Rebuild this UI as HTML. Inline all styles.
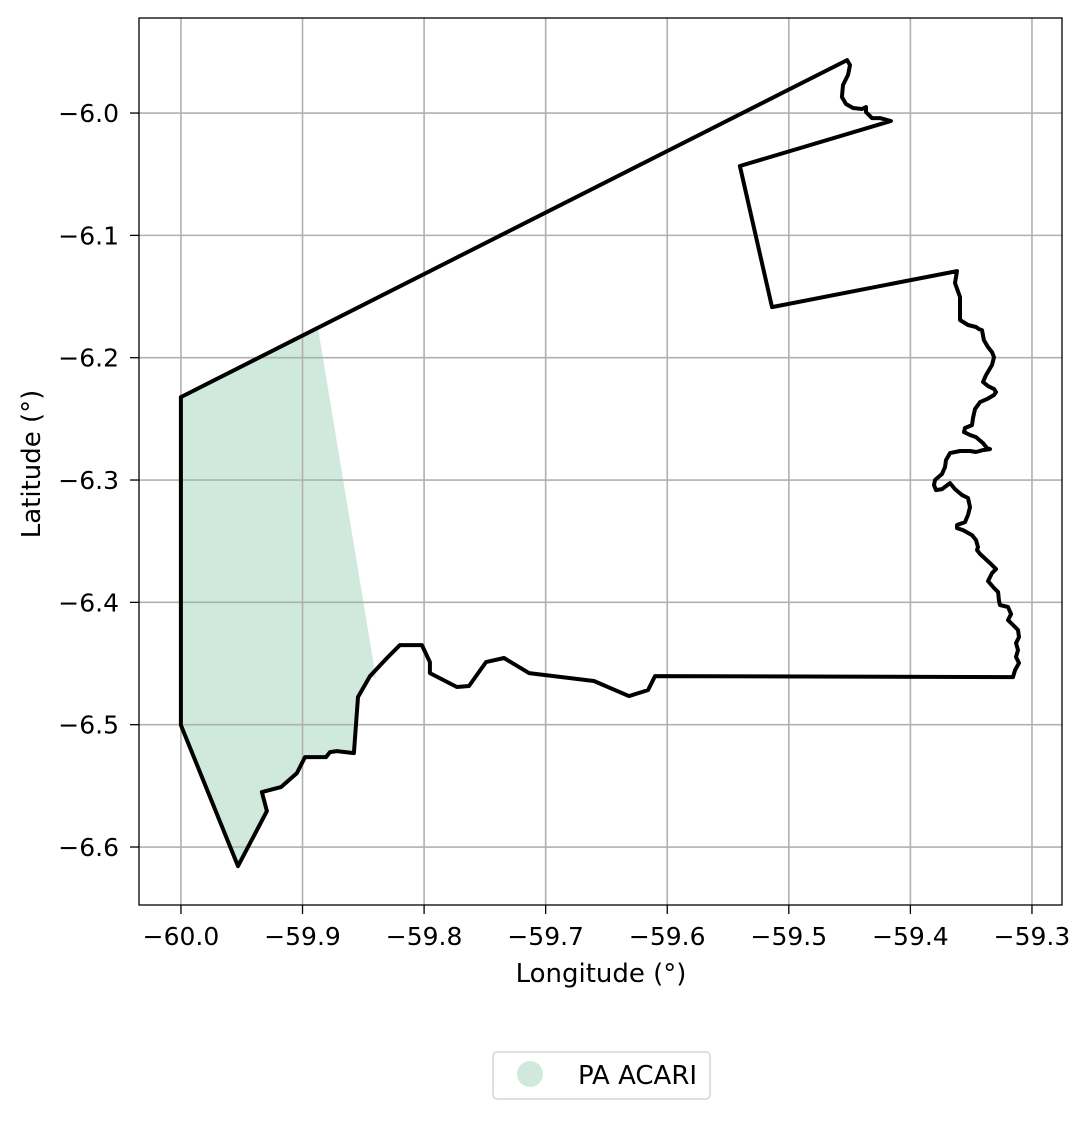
<!DOCTYPE html>
<html><head><meta charset="utf-8"><style>
body{margin:0;background:#fff;}
svg text{font-family:"DejaVu Sans","Liberation Sans",sans-serif;fill:#000;}
</style></head><body>
<svg id="chart" width="1092" height="1119" viewBox="0 0 1092 1119" xmlns="http://www.w3.org/2000/svg">
<g id="fillLayer"></g><g id="gridLayer"></g><g id="lineLayer"></g>
<rect x="139" y="18" width="923" height="887" fill="none" stroke="#000" stroke-width="1.3"/>
<g id="ticks"></g>
<text x="601" y="982" font-size="26" text-anchor="middle">Longitude (°)</text>
<text x="0" y="0" font-size="26" text-anchor="middle" transform="translate(40 464) rotate(-90)">Latitude (°)</text>
<g>
<rect x="493" y="1052" width="217" height="47" rx="4" fill="#fff" stroke="#d6d6d6" stroke-width="1.5"/>
<circle cx="530" cy="1074" r="13" fill="#cfeadd"/>
<text x="578" y="1084" font-size="26">PA ACARI</text>
</g>
</svg>
<script>
const xTicks=[-60.0,-59.9,-59.8,-59.7,-59.6,-59.5,-59.4,-59.3];
const yTicks=[-6.0,-6.1,-6.2,-6.3,-6.4,-6.5,-6.6];
const boundaryLon=[-60.0000,-59.4521,-59.4497,-59.4513,-59.4554,-59.4563,-59.4530,-59.4472,-59.4398,-59.4365,-59.4365,-59.4316,-59.4250,-59.4160,-59.5402,-59.5138,-59.3617,-59.3633,-59.3592,-59.3592,-59.3526,-59.3460,-59.3436,-59.3411,-59.3395,-59.3362,-59.3329,-59.3312,-59.3329,-59.3378,-59.3403,-59.3362,-59.3312,-59.3296,-59.3312,-59.3370,-59.3427,-59.3469,-59.3485,-59.3493,-59.3551,-59.3559,-59.3510,-59.3460,-59.3403,-59.3370,-59.3345,-59.3403,-59.3460,-59.3510,-59.3592,-59.3674,-59.3707,-59.3715,-59.3740,-59.3798,-59.3806,-59.3789,-59.3740,-59.3674,-59.3633,-59.3575,-59.3526,-59.3510,-59.3526,-59.3551,-59.3617,-59.3617,-59.3567,-59.3493,-59.3460,-59.3444,-59.3452,-59.3427,-59.3345,-59.3296,-59.3329,-59.3362,-59.3312,-59.3279,-59.3271,-59.3263,-59.3197,-59.3172,-59.3197,-59.3164,-59.3115,-59.3107,-59.3131,-59.3115,-59.3131,-59.3107,-59.3139,-59.3156,-59.6101,-59.6158,-59.6315,-59.6603,-59.7137,-59.7343,-59.7491,-59.7631,-59.7730,-59.7952,-59.7952,-59.8018,-59.8199,-59.8305,-59.8445,-59.8544,-59.8577,-59.8717,-59.8774,-59.8807,-59.8980,-59.9046,-59.9177,-59.9334,-59.9293,-59.9531,-60.0000,-60.0000];
const boundaryLat=[-6.2322,-5.9567,-5.9608,-5.9689,-5.9771,-5.9869,-5.9926,-5.9959,-5.9967,-5.9951,-5.9992,-6.0041,-6.0041,-6.0065,-6.0433,-6.1586,-6.1292,-6.1390,-6.1504,-6.1692,-6.1733,-6.1749,-6.1766,-6.1774,-6.1856,-6.1913,-6.1954,-6.1995,-6.2060,-6.2142,-6.2199,-6.2232,-6.2256,-6.2281,-6.2305,-6.2338,-6.2363,-6.2420,-6.2493,-6.2551,-6.2575,-6.2608,-6.2632,-6.2649,-6.2698,-6.2739,-6.2747,-6.2755,-6.2771,-6.2763,-6.2763,-6.2780,-6.2837,-6.2894,-6.2951,-6.3000,-6.3041,-6.3082,-6.3074,-6.3025,-6.3074,-6.3123,-6.3147,-6.3221,-6.3286,-6.3344,-6.3368,-6.3393,-6.3409,-6.3450,-6.3491,-6.3548,-6.3572,-6.3605,-6.3679,-6.3728,-6.3761,-6.3826,-6.3883,-6.3916,-6.3989,-6.4022,-6.4038,-6.4096,-6.4145,-6.4177,-6.4226,-6.4284,-6.4333,-6.4390,-6.4447,-6.4496,-6.4553,-6.4611,-6.4603,-6.4717,-6.4766,-6.4643,-6.4578,-6.4455,-6.4488,-6.4684,-6.4692,-6.4578,-6.4488,-6.4349,-6.4349,-6.4455,-6.4603,-6.4774,-6.5232,-6.5216,-6.5224,-6.5265,-6.5265,-6.5396,-6.5510,-6.5551,-6.5706,-6.6156,-6.5003,-6.2322];
const fillLon=[-60.0000,-59.8873,-59.8396,-59.8445,-59.8544,-59.8577,-59.8717,-59.8774,-59.8807,-59.8980,-59.9046,-59.9177,-59.9334,-59.9293,-59.9531,-60.0000];
const fillLat=[-6.2322,-6.1758,-6.4619,-6.4603,-6.4774,-6.5232,-6.5216,-6.5224,-6.5265,-6.5265,-6.5396,-6.5510,-6.5551,-6.5706,-6.6156,-6.5003];
const X0=139,X1=1062,Y0=18,Y1=905,LON0=-60.0345,LON1=-59.2753,LAT0=-5.9223,LAT1=-6.6474;
function sx(v){return X0+(v-LON0)/(LON1-LON0)*(X1-X0);}
function sy(v){return Y0+(v-LAT0)/(LAT1-LAT0)*(Y1-Y0);}
const NS="http://www.w3.org/2000/svg";
function mk(t,a,parent){const e=document.createElementNS(NS,t);for(const k in a)e.setAttribute(k,a[k]);document.getElementById(parent).appendChild(e);return e;}
const fillPts=fillLon.map((v,i)=>sx(v).toFixed(1)+','+sy(fillLat[i]).toFixed(1)).join(' ');
const fp=mk('polygon',{points:fillPts,fill:'#cfeadd'},'fillLayer');


xTicks.forEach(v=>{const x=sx(v);
const g=mk('line',{x1:x,x2:x,y1:Y0,y2:Y1,stroke:'#b0b0b0','stroke-width':1.6},'gridLayer');


mk('line',{x1:x,x2:x,y1:Y1,y2:Y1+9,stroke:'#000','stroke-width':1.3},'ticks');
const t=mk('text',{x:x,y:Y1+40,'font-size':25,'text-anchor':'middle'},'ticks');
t.textContent='\u2212'+Math.abs(v).toFixed(1);

});
yTicks.forEach(v=>{const y=sy(v);
const g=mk('line',{x1:X0,x2:X1,y1:y,y2:y,stroke:'#b0b0b0','stroke-width':1.6},'gridLayer');


mk('line',{x1:X0-9,x2:X0,y1:y,y2:y,stroke:'#000','stroke-width':1.3},'ticks');
const t=mk('text',{x:X0-20,y:y+9,'font-size':25,'text-anchor':'end'},'ticks');
t.textContent='\u2212'+Math.abs(v).toFixed(1);

});
const bPts=boundaryLon.map((v,i)=>sx(v).toFixed(1)+','+sy(boundaryLat[i]).toFixed(1)).join(' ');
const bl=mk('polyline',{points:bPts,fill:'none',stroke:'#000','stroke-width':4,'stroke-linejoin':'round','stroke-linecap':'round'},'lineLayer');


</script>
</body></html>
